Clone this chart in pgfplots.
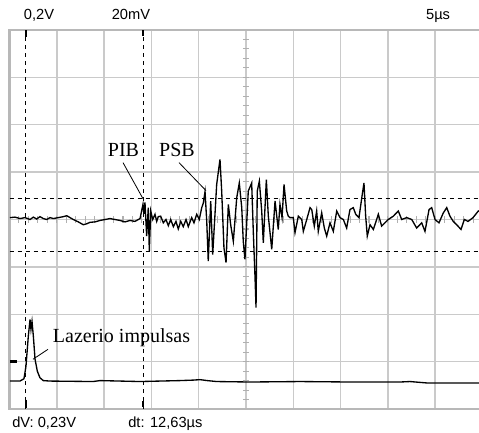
\documentclass[border=0pt]{standalone}
\usepackage{pgfplots}
\pgfplotsset{compat=1.18}
\usepackage{fontspec}
\setmainfont{Liberation Sans}
\newfontfamily\serif{Liberation Serif}
\definecolor{gridgray}{HTML}{CACACA}
\definecolor{bordergray}{HTML}{B8B8B8}
\definecolor{tickgray}{HTML}{B0B0B0}

\begin{document}
\begin{tikzpicture}
  \begin{axis}[
      scale only axis,
      width=352.1pt, height=284.25pt,
      xmin=0, xmax=49.63,
      ymin=-4, ymax=4,
      xtick={0,5,...,45},
      ytick={-4,-3,...,4},
      xticklabels={}, yticklabels={},
      major tick length=0pt,
      grid=major,
      major grid style={draw=gridgray, line width=1.1pt},
      axis line style={draw=none},
      clip mode=individual,
    ]
    \coordinate (O) at (rel axis cs:0,0);
    \coordinate (T) at (rel axis cs:1,1);

    % frame (no right edge, it is cut off)
    \draw[bordergray, line width=1.6pt]
      (axis cs:49.63,4) -- (axis cs:0,4) -- (axis cs:0,-4) -- (axis cs:49.63,-4);

    % small ticks on the centre lines
    \pgfplotsinvokeforeach{-3.8,-3.6,...,3.8}{
      \draw[tickgray, line width=0.8pt] (axis cs:24.68,#1) -- (axis cs:25.32,#1);
    }
    \pgfplotsinvokeforeach{1,2,...,49}{
      \draw[tickgray, line width=0.8pt] (axis cs:#1,-0.065) -- (axis cs:#1,0.065);
    }

    % cursors
    \addplot[black, line width=0.75pt, dash pattern=on 3pt off 3pt]
      coordinates {(1.74,-4) (1.74,4)};
    \addplot[black, line width=0.75pt, dash pattern=on 3pt off 3pt]
      coordinates {(14.14,-4) (14.14,4)};
    \addplot[black, line width=0.75pt, dash pattern=on 3pt off 3pt]
      coordinates {(0,0.44) (49.63,0.44)};
    \addplot[black, line width=0.75pt, dash pattern=on 3pt off 3pt]
      coordinates {(0,-0.675) (49.63,-0.675)};

    % cursor handles and channel marker
    \addplot[black, line width=1.6pt] coordinates {(1.74,3.99) (1.74,3.86)};
    \addplot[black, line width=1.2pt] coordinates {(14.14,3.99) (14.14,3.88)};
    \addplot[black, line width=1.6pt] coordinates {(1.74,-3.80) (1.74,-3.98)};
    \addplot[black, line width=1.2pt] coordinates {(14.14,-3.84) (14.14,-3.96)};
    \addplot[black, line width=2pt] coordinates {(0.05,-3.0) (0.79,-3.0)};

    % channel 2 (20 mV/div)
    \addplot[black, line width=1pt] coordinates {
      (0.05,0.04) (0.58,0.05) (1.11,0.02) (1.64,0.04) (2.17,0.00) (2.52,0.05)
      (2.87,0.01) (3.22,0.06) (3.57,0.02) (3.93,0.00) (4.28,0.04) (4.63,0.02)
      (5.16,0.04) (5.69,0.06) (6.05,0.08) (6.40,0.04) (6.74,0.00) (7.27,-0.05)
      (7.80,-0.11) (8.16,-0.09) (8.51,-0.06) (9.04,-0.05) (9.57,-0.02) (10.10,0.00)
      (10.62,0.02) (11.15,0.00) (11.68,-0.02) (12.21,-0.05) (12.74,-0.02) (13.26,-0.04)
      (13.80,0.02) (14.11,0.32) (14.20,0.12) (14.32,0.36) (14.50,-0.35) (14.67,0.25)
      (14.78,-0.67) (14.93,0.18) (15.14,0.00) (15.38,0.11) (15.56,-0.04) (15.73,0.06)
      (15.98,0.07) (16.26,-0.07) (16.54,0.00) (16.79,-0.13) (17.04,0.00) (17.32,-0.15)
      (17.60,-0.04) (17.84,-0.20) (18.10,-0.04) (18.37,-0.15) (18.66,0.00) (18.90,-0.15)
      (19.26,0.04) (19.50,-0.07) (19.79,0.11) (20.06,0.00) (20.32,0.25) (20.49,0.35)
      (20.67,0.59) (20.85,-0.04) (21.01,-0.88) (21.27,0.39) (21.48,-0.74) (21.90,0.74)
      (22.25,1.27) (22.43,0.60) (22.67,-0.60) (22.89,-0.91) (23.13,0.32) (23.38,-0.11)
      (23.66,-0.46) (24.02,0.46) (24.29,0.77) (24.55,0.25) (24.71,-0.46) (24.89,-0.84)
      (25.24,0.60) (25.60,0.77) (25.77,-0.25) (25.95,-1.20) (26.06,-1.86) (26.19,0.60)
      (26.41,0.81) (26.66,0.18) (26.83,-0.49) (27.15,0.84) (27.36,0.07) (27.72,-0.63)
      (28.07,0.39) (28.41,-0.21) (28.59,0.32) (28.81,0.04) (29.02,0.74) (29.30,0.18)
      (29.47,0.07) (29.65,0.04) (30.00,0.04) (30.18,-0.28) (30.53,0.07) (30.89,0.00)
      (31.06,-0.25) (31.42,0.00) (31.77,0.25) (31.95,0.21) (32.22,-0.14) (32.47,0.18)
      (32.64,-0.25) (33.00,0.14) (33.28,-0.18) (33.53,-0.35) (33.88,-0.07) (34.23,-0.25)
      (34.59,0.18) (34.94,0.04) (35.29,0.00) (35.64,-0.18) (35.99,0.21) (36.34,0.25)
      (36.60,0.11) (36.94,0.04) (37.29,0.53) (37.47,0.77) (37.65,0.07) (37.82,-0.35)
      (38.11,-0.11) (38.46,-0.21) (38.99,0.11) (39.34,-0.14) (39.69,-0.07) (40.04,0.00)
      (40.57,0.07) (41.10,0.18) (41.46,0.00) (41.99,0.04) (42.52,0.00) (43.04,-0.18)
      (43.57,-0.07) (43.92,-0.25) (44.35,0.21) (44.63,0.25) (44.98,0.00) (45.40,-0.07)
      (45.86,0.14) (46.22,0.25) (46.56,0.07) (46.91,-0.04) (47.27,-0.11) (47.73,-0.21)
      (48.08,0.00) (48.47,-0.04) (49.00,0.04) (49.56,0.18) (49.63,0.17)
    };

    % channel 1 (0.2 V/div), laser pulse
    \addplot[black, line width=1pt] coordinates {
      (0.05,-3.41) (1.11,-3.41) (1.53,-3.36) (1.74,-3.10) (1.99,-2.46) (2.17,-2.11)
      (2.27,-2.32) (2.38,-2.15) (2.52,-2.46) (2.70,-2.95) (2.94,-3.20) (3.22,-3.34)
      (3.57,-3.40) (4.28,-3.41) (8.83,-3.42) (9.57,-3.40) (13.80,-3.42) (18.00,-3.40)
      (19.40,-3.39) (20.14,-3.38) (20.90,-3.40) (21.90,-3.42) (25.42,-3.43) (30.70,-3.42)
      (36.00,-3.43) (41.28,-3.43) (42.33,-3.42) (44.13,-3.45) (49.63,-3.45)
    };

    % annotations
    \draw[black, line width=0.6pt] (axis cs:12.00,1.20) -- (axis cs:14.11,0.44);
    \draw[black, line width=0.6pt] (axis cs:17.92,1.20) -- (axis cs:20.77,0.61);
    \draw[black, line width=0.6pt] (axis cs:4.07,-2.74) -- (axis cs:2.48,-2.95);
    \node[anchor=base, inner sep=0pt, font=\serif\fontsize{15}{18}\selectfont]
      at (axis cs:12.05,1.33) {PIB};
    \node[anchor=base, inner sep=0pt, font=\serif\fontsize{15}{18}\selectfont]
      at (axis cs:17.71,1.33) {PSB};
    \node[anchor=base, inner sep=0pt, font=\serif\fontsize{15}{18}\selectfont]
      at (axis cs:11.84,-2.60) {Lazerio impulsas};
  \end{axis}

  % scope readouts
  \begin{scope}[font=\fontsize{11}{13}\selectfont]
    \node[anchor=base, inner sep=0pt] at ([shift={(22.1pt,7.5pt)}]O |- T) {0,2V};
    \node[anchor=base, inner sep=0pt] at ([shift={(91.1pt,7.5pt)}]O |- T) {20mV};
    \node[anchor=base, inner sep=0pt] at ([shift={(321.4pt,7.5pt)}]O |- T) {5µs};
    \node[anchor=base west, inner sep=0pt] at ([shift={(1.9pt,-13.5pt)}]O) {dV: 0,23V};
    \node[anchor=base west, inner sep=0pt] at ([shift={(88.9pt,-13.5pt)}]O) {dt: 12,63µs};
  \end{scope}

  \pgfresetboundingbox
  \path[use as bounding box] ([shift={(-7.125pt,-17.25pt)}]O) rectangle ([shift={(0pt,22.5pt)}]T);
\end{tikzpicture}
\end{document}
